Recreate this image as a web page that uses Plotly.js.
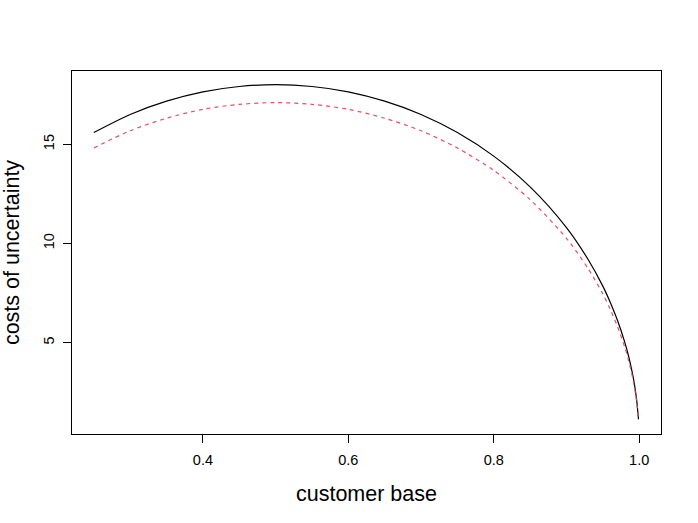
<!DOCTYPE html>
<html>
<head>
<meta charset="utf-8">
<script src="https://cdn.plot.ly/plotly-3.0.1.min.js"></script>
<style>html,body{margin:0;padding:0;background:#fff}#chart{width:698px;height:523px}</style>
</head>
<body>
<div id="chart"></div>
<script>
const customerBase = [0.25,0.30,0.35,0.40,0.45,0.50,0.55,0.60,0.65,0.70,0.75,0.80,0.85,0.90,0.93,0.95,0.96,0.97,0.98,0.985,0.99,0.9925,0.995,0.997,0.999];
const costsSolid = [15.59,16.50,17.17,17.64,17.91,18.00,17.91,17.64,17.17,16.50,15.59,14.40,12.85,10.80,9.18,7.85,7.05,6.14,5.04,4.38,3.58,3.11,2.54,1.97,1.14];
const costsDashed = [14.81,15.68,16.31,16.76,17.01,17.10,17.01,16.76,16.31,15.68,14.81,13.68,12.21,10.26,8.72,7.46,6.70,5.83,4.79,4.16,3.40,2.95,2.41,1.87,1.08];
const xTicks = [0.4,0.6,0.8,1.0];
const xTickLabels = ["0.4","0.6","0.8","1.0"];
const yTicks = [5,10,15];
const yTickLabels = ["5","10","15"];

const font = "Liberation Sans, Arial, Helvetica, sans-serif";
const traces = [
  {x: customerBase, y: costsSolid, type: "scatter", mode: "lines",
   line: {color: "#000000", width: 1.2, shape: "spline", smoothing: 0.8}, hoverinfo: "skip"},
  {x: customerBase, y: costsDashed, type: "scatter", mode: "lines",
   line: {color: "#DF536B", width: 1.2, dash: "4px,4px", shape: "spline", smoothing: 0.8}, hoverinfo: "skip"}
];
const layout = {
  width: 698, height: 523,
  margin: {l: 72, r: 37, t: 71, b: 89, pad: 0},
  paper_bgcolor: "#fff", plot_bgcolor: "#fff",
  showlegend: false,
  font: {family: font, color: "#000"},
  xaxis: {
    range: [0.22, 1.03], showgrid: false, zeroline: false,
    showline: true, mirror: true, linecolor: "#000", linewidth: 1,
    ticks: "outside", ticklen: 8, tickwidth: 1, tickcolor: "#000",
    tickvals: xTicks, ticktext: xTickLabels, tickfont: {size: 14.5, family: font},
    ticklabelstandoff: 5,
    title: {text: "customer base", font: {size: 21.5, family: font}, standoff: 18}
  },
  yaxis: {
    range: [0.40, 18.69], showgrid: false, zeroline: false,
    showline: true, mirror: true, linecolor: "#000", linewidth: 1,
    ticks: "outside", ticklen: 8, tickwidth: 1, tickcolor: "#000",
    tickvals: yTicks, ticktext: yTickLabels, tickfont: {size: 14.5, family: font},
    tickangle: -90, ticklabelstandoff: 3,
    title: {text: "costs of uncertainty", font: {size: 21.5, family: font}, standoff: 18}
  }
};
Plotly.newPlot("chart", traces, layout, {displayModeBar: false, staticPlot: true});
</script>
</body>
</html>
